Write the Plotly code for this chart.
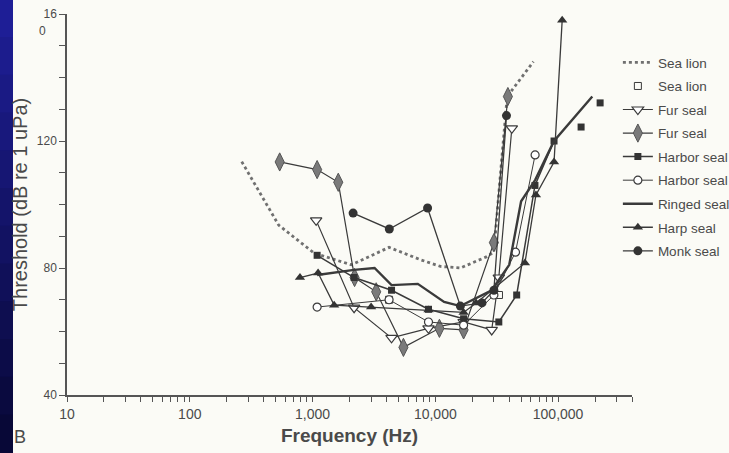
import plotly.graph_objects as go

# ---------------- data ----------------
sea_lion_line_f = [265, 530, 1030, 2070, 4200, 7700, 11000, 16000, 26000, 30000, 34000, 38500, 63000]
sea_lion_line_db = [113.5, 93.5, 84.7, 81, 86.5, 82.5, 80.5, 80, 83.5, 85, 110, 134, 145]

sea_lion_sq_f = [4200, 33000]
sea_lion_sq_db = [70, 71.5]

fur_tri_f = [1070, 2180, 4400, 8800, 17000, 28800, 32900, 42000]
fur_tri_db = [95, 67.5, 58, 61, 63, 60.5, 77, 124]

fur_dia_f = [540, 1090, 1620, 2200, 3300, 5500, 10800, 17000, 30000, 39000]
fur_dia_db = [113.4, 111, 107, 77, 72.5, 55, 61, 60.5, 88, 134]

harbor_sq_f = [1090, 2180, 4400, 8800, 17000, 32900, 46000, 64800, 92700, None, 154000, None, 220000]
harbor_sq_db = [84, 77, 73, 67, 64, 63, 71.5, 106, 120, None, 124.4, None, 132]

harbor_circ_f = [1090, 4200, 8800, 17000, 30000, 45000, 65000]
harbor_circ_db = [67.7, 70, 63, 62, 71.5, 85, 115.6]

ringed_f = [1090, 2180, 3200, 4400, 7200, 11800, 16000, 28800, 40000, 50000, 65000, 92700, 190000]
ringed_db = [77.8, 79.4, 80, 74.6, 75, 69.3, 68, 73, 81, 101, 107.7, 120, 134]

harp_f = [790, 1110, 1500, 3000, 8800, 17000, 21500, 53700, 66000, 92700, 108000]
harp_db = [77, 78.4, 68.3, 67.7, 66.8, 66, 69, 81.6, 103, 113.4, 158]

monk_f = [2140, 4220, 8650, 16000, 24000, 30000, 38000]
monk_db = [97.3, 92.3, 98.9, 68, 69, 73, 128]

x_major = [10, 100, 1000, 10000, 100000]
x_major_labels = ["10", "100", "1,000", "10,000", "100,000"]
y_ticks = [40, 50, 60, 70, 80, 90, 100, 110, 120, 130, 140, 150, 160]
y_labels = ["40", "", "", "", "80", "", "", "", "120", "", "", "", "16"]

# ---------------- styling ----------------
dark = "#3a3a3a"
gray = "#7a7a7a"
bg = "#fbfbf6"

fig = go.Figure()


def add(name, f, db, mode, line=None, marker=None, group=None):
    fig.add_trace(go.Scatter(
        x=f, y=db, name=name, mode=mode, line=line, marker=marker,
        legendgroup=group or name, connectgaps=False,
    ))


add("Sea lion", sea_lion_line_f, sea_lion_line_db, "lines",
    line=dict(color="#707070", width=2.8, dash="dot"), group="g1")
add("Sea lion", sea_lion_sq_f, sea_lion_sq_db, "markers",
    marker=dict(symbol="square-open", size=7, color=dark, line=dict(width=1)), group="g2")
add("Fur seal", fur_tri_f, fur_tri_db, "lines+markers",
    line=dict(color=dark, width=1.2),
    marker=dict(symbol="triangle-down", size=10, color="white", line=dict(color=dark, width=1.2)), group="g3")
add("Fur seal", fur_dia_f, fur_dia_db, "lines+markers",
    line=dict(color=dark, width=1.2),
    marker=dict(symbol="diamond-tall", size=13, color=gray, line=dict(color="#555", width=1)), group="g4")
add("Harbor seal", harbor_sq_f, harbor_sq_db, "lines+markers",
    line=dict(color=dark, width=1.5),
    marker=dict(symbol="square", size=7, color="#333"), group="g5")
add("Harbor seal", harbor_circ_f, harbor_circ_db, "lines+markers",
    line=dict(color=dark, width=1),
    marker=dict(symbol="circle", size=8, color="white", line=dict(color=dark, width=1.2)), group="g6")
add("Ringed seal", ringed_f, ringed_db, "lines",
    line=dict(color=dark, width=2.4), group="g7")
add("Harp seal", harp_f, harp_db, "lines+markers",
    line=dict(color=dark, width=1.3),
    marker=dict(symbol="triangle-up", size=9, color="#333"), group="g8")
add("Monk seal", monk_f, monk_db, "lines+markers",
    line=dict(color=dark, width=1.3),
    marker=dict(symbol="circle", size=9, color="#333"), group="g9")

x_tickvals = []
x_ticktext = []
for d in x_major:
    for k in range(1, 10):
        v = d * k
        if v > 400000:
            break
        x_tickvals.append(v)
        x_ticktext.append(x_major_labels[x_major.index(d)] if k == 1 else "")

fig.update_xaxes(
    type="log", range=[1, 5.6021], tickvals=x_tickvals, ticktext=x_ticktext,
    ticks="outside", ticklen=5, tickwidth=1, tickcolor="#555",
    showline=True, linecolor="#555", linewidth=1.5, showgrid=False, zeroline=False,
    tickfont=dict(family="Liberation Sans", size=14, color="#4a4a4a"),
    title=dict(text="<b>Frequency (Hz)</b>", font=dict(family="Liberation Sans", size=19, color="#4a4a4a"), standoff=8),
)
fig.update_yaxes(
    range=[40, 160], tickvals=y_ticks, ticktext=y_labels,
    ticks="outside", ticklen=6, tickwidth=1, tickcolor="#555",
    showline=True, linecolor="#555", linewidth=1.5, showgrid=False, zeroline=False,
    tickfont=dict(family="Liberation Sans", size=12, color="#4a4a4a"),
    title=dict(text="Threshold (dB re 1 uPa)", font=dict(family="Liberation Sans", size=20, color="#4a4a4a"), standoff=4),
)

# left blue strip (gradient bands)
n = 12
top = (30, 30, 150)
bot = (8, 8, 55)
y_lo, y_hi = (395 - 453) / 381, 395 / 381
for i in range(n):
    t = i / (n - 1)
    c = tuple(int(top[j] + (bot[j] - top[j]) * t) for j in range(3))
    y1 = y_hi - (y_hi - y_lo) * i / n
    y0 = y_hi - (y_hi - y_lo) * (i + 1) / n
    fig.add_shape(type="rect", xref="paper", yref="paper",
                  x0=-68 / 565, x1=-54 / 565, y0=y0 - 0.002, y1=y1 + 0.002,
                  line=dict(width=0), fillcolor="rgb(%d,%d,%d)" % c, layer="above")

fig.add_annotation(text="0", xref="paper", yref="y", x=-0.033, y=154.5,
                   xanchor="right", showarrow=False,
                   font=dict(family="Liberation Sans", size=12, color="#4a4a4a"))
fig.add_annotation(text="B", xref="paper", yref="paper", x=-47 / 565, y=-42 / 381,
                   xanchor="center", yanchor="middle",
                   showarrow=False, font=dict(family="Liberation Sans", size=18, color="#4a4a4a"))

fig.update_layout(
    width=729, height=453,
    margin=dict(l=67, r=97, t=14, b=58, autoexpand=False),
    paper_bgcolor=bg, plot_bgcolor=bg,
    showlegend=True,
    legend=dict(x=0.975, xanchor="left", y=0.913, yanchor="top", bgcolor="rgba(0,0,0,0)",
                font=dict(family="Liberation Sans", size=13.5, color="#4a4a4a"),
                tracegroupgap=3, itemwidth=30),
)

fig.write_html("out.html", config={"displayModeBar": False},
               post_script="document.body.style.margin='0px';document.body.style.overflow='hidden';")
